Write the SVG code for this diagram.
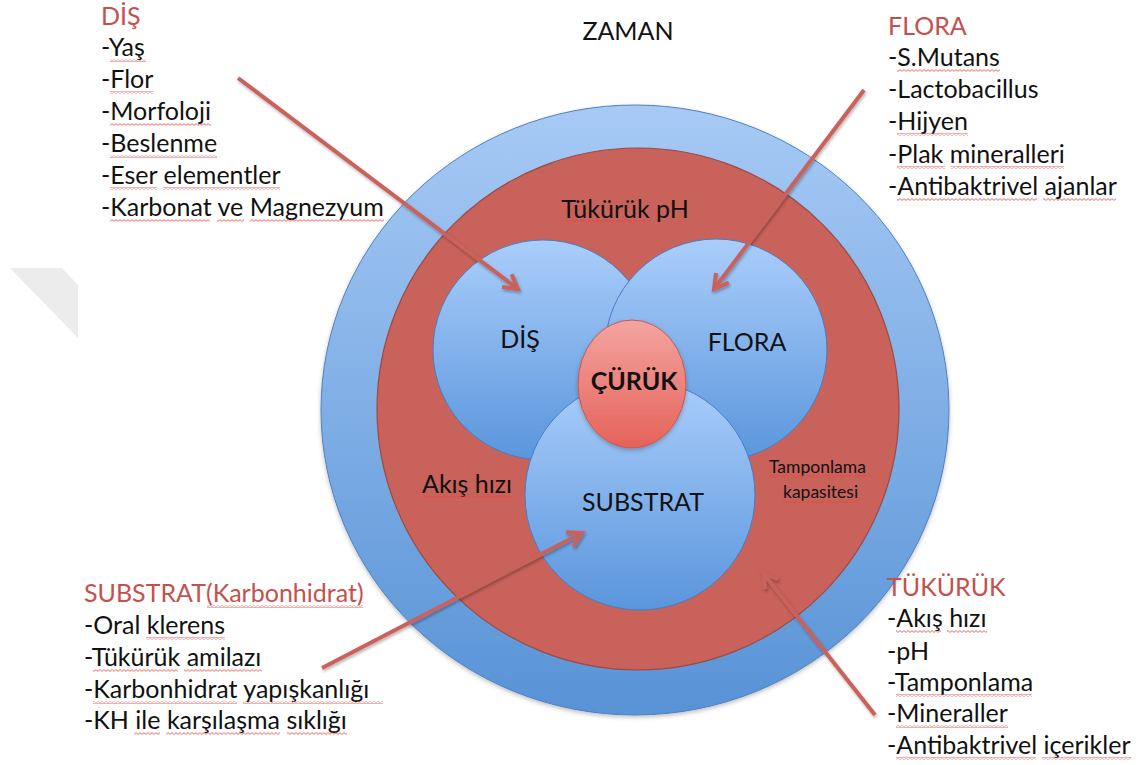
<svg xmlns="http://www.w3.org/2000/svg" width="1141" height="765" viewBox="0 0 1141 765">
<defs>
<style>
.t{font-family:Lato,"Open Sans","Liberation Sans",sans-serif;font-size:25px;fill:#111}
.c{font-family:Lato,"Open Sans","Liberation Sans",sans-serif;font-size:25px;fill:#111}
.s{font-size:17.5px}
.h{fill:#c4514d}
.w{fill:url(#wavy)}
.ring{stroke:#4f7fbf;stroke-width:1}
.inner{fill:url(#gInner);stroke:#4a7cc0;stroke-width:1}
.arrow{fill:none;stroke:#c9625b;stroke-width:4;marker-end:url(#head);filter:url(#sh)}
</style>
<pattern id="wavy" patternUnits="userSpaceOnUse" x="0" y="0" width="4" height="3">
<path d="M0,0.6 L2,2.4 L4,0.6" fill="none" stroke="#e8453e" stroke-width="0.8"/>
</pattern>
<linearGradient id="gOuter" x1="0" y1="0" x2="0" y2="1">
<stop offset="0" stop-color="#a7caf5"/>
<stop offset="1" stop-color="#5893d6"/>
</linearGradient>
<linearGradient id="gInner" x1="0" y1="0" x2="0" y2="1">
<stop offset="0" stop-color="#aacefb"/>
<stop offset="1" stop-color="#5a95dc"/>
</linearGradient>
<linearGradient id="gCur" x1="0" y1="0" x2="0" y2="1">
<stop offset="0" stop-color="#f3a59f"/>
<stop offset="1" stop-color="#e5625a"/>
</linearGradient>
<filter id="sh" x="-20%" y="-20%" width="140%" height="140%">
<feDropShadow dx="1" dy="2" stdDeviation="1.5" flood-color="#000" flood-opacity="0.3"/>
</filter>
<filter id="shc" x="-10%" y="-10%" width="120%" height="120%">
<feDropShadow dx="0" dy="2" stdDeviation="2" flood-color="#000" flood-opacity="0.25"/>
</filter>
<marker id="head" markerUnits="userSpaceOnUse" viewBox="0 0 24 24" refX="20" refY="12" markerWidth="24" markerHeight="24" orient="auto">
<path d="M6,4 L20,12 L6,20" fill="none" stroke="#c9625b" stroke-width="4" stroke-linejoin="miter"/>
</marker>
</defs>
<rect width="1141" height="765" fill="#fff"/>
<polygon points="10,268 62,268 78,285 78,338" fill="#ececec"/>

<g id="zaman">
<ellipse cx="635" cy="410" rx="314" ry="305" fill="url(#gOuter)" class="ring" filter="url(#shc)"/>
<text class="c" x="628" y="40" text-anchor="middle">ZAMAN</text>
</g>
<g id="tukuruk">
<circle cx="638" cy="409" r="261" fill="#c8625a" stroke="#9c4a44" stroke-width="1.2"/>
<text class="c" x="625" y="218" text-anchor="middle"><tspan>Tükürük</tspan> <tspan>pH</tspan></text>
<rect class="w" x="562" y="220" width="88" height="3"/>
<text class="c" x="422" y="493"><tspan>Akış</tspan> <tspan>hızı</tspan></text>
<rect class="w" x="422" y="495" width="45" height="3"/>
<rect class="w" x="473" y="495" width="39" height="3"/>
<text class="c s" x="769" y="473">Tamponlama</text>
<rect class="w" x="769" y="475" width="97" height="3"/>
<text class="c s" x="783" y="498">kapasitesi</text>
<rect class="w" x="783" y="500" width="75" height="3"/>
</g>
<g id="dis">
<circle cx="543" cy="350" r="110" class="inner"/>
<text class="c" x="520" y="348" text-anchor="middle">DİŞ</text>
</g>
<g id="flora">
<circle cx="716" cy="350" r="111" class="inner"/>
<text class="c" x="747" y="351" text-anchor="middle">FLORA</text>
</g>
<g id="substrat">
<circle cx="640" cy="495" r="115" class="inner"/>
<text class="c" x="643" y="511" text-anchor="middle">SUBSTRAT</text>
</g>
<g id="curuk">
<ellipse cx="632" cy="384" rx="54" ry="64" fill="url(#gCur)" stroke="#c9574f" stroke-width="1" filter="url(#shc)"/>
<text class="c" x="634" y="390" text-anchor="middle" font-weight="bold">ÇÜRÜK</text>
</g>

<g id="dis-info">
<text class="t h" x="101" y="25">DİŞ</text>
<text class="t" x="101" y="56">-<tspan>Yaş</tspan></text>
<text class="t" x="101" y="88">-<tspan>Flor</tspan></text>
<text class="t" x="101" y="120">-<tspan>Morfoloji</tspan></text>
<text class="t" x="101" y="152">-<tspan>Beslenme</tspan></text>
<text class="t" x="101" y="184">-<tspan>Eser</tspan> <tspan>elementler</tspan></text>
<text class="t" x="101" y="216">-<tspan>Karbonat</tspan> <tspan>ve</tspan> <tspan>Magnezyum</tspan></text>
<rect class="w" x="110" y="59" width="36" height="3"/>
<rect class="w" x="110" y="91" width="43" height="3"/>
<rect class="w" x="110" y="123" width="101" height="3"/>
<rect class="w" x="110" y="155" width="107" height="3"/>
<rect class="w" x="110" y="187" width="47" height="3"/>
<rect class="w" x="163" y="187" width="117" height="3"/>
<rect class="w" x="110" y="219" width="100" height="3"/>
<rect class="w" x="217" y="219" width="27" height="3"/>
<rect class="w" x="250" y="219" width="134" height="3"/>
</g>
<g id="flora-info">
<text class="t h" x="888" y="35">FLORA</text>
<text class="t" x="888" y="66">-<tspan>S.Mutans</tspan></text>
<text class="t" x="888" y="98">-<tspan>Lactobacillus</tspan></text>
<text class="t" x="888" y="130">-<tspan>Hijyen</tspan></text>
<text class="t" x="888" y="163">-<tspan>Plak</tspan> <tspan>mineralleri</tspan></text>
<text class="t" x="888" y="195">-<tspan>Antibaktrivel</tspan> <tspan>ajanlar</tspan></text>
<rect class="w" x="897" y="69" width="103" height="3"/>
<rect class="w" x="897" y="133" width="71" height="3"/>
<rect class="w" x="897" y="166" width="48" height="3"/>
<rect class="w" x="951" y="166" width="113" height="3"/>
<rect class="w" x="897" y="198" width="140" height="3"/>
<rect class="w" x="1043" y="198" width="73" height="3"/>
</g>
<g id="substrat-info">
<text class="t h" x="84" y="602">SUBSTRAT(<tspan>Karbonhidrat)</tspan></text>
<text class="t" x="84" y="634">-<tspan>Oral</tspan> <tspan>klerens</tspan></text>
<text class="t" x="84" y="666">-<tspan>Tükürük</tspan> <tspan>amilazı</tspan></text>
<text class="t" x="84" y="698">-<tspan>Karbonhidrat</tspan> <tspan>yapışkanlığı</tspan></text>
<text class="t" x="84" y="729">-<tspan>KH</tspan> <tspan>ile</tspan> <tspan>karşılaşma</tspan> <tspan>sıklığı</tspan></text>
<rect class="w" x="207" y="605" width="156" height="3"/>
<rect class="w" x="146" y="637" width="79" height="3"/>
<rect class="w" x="93" y="669" width="85" height="3"/>
<rect class="w" x="184" y="669" width="78" height="3"/>
<rect class="w" x="93" y="701" width="144" height="3"/>
<rect class="w" x="243" y="701" width="140" height="3"/>
<rect class="w" x="134" y="732" width="26" height="3"/>
<rect class="w" x="166" y="732" width="114" height="3"/>
<rect class="w" x="287" y="732" width="60" height="3"/>
</g>
<g id="tukuruk-info">
<text class="t h" x="887" y="596">TÜKÜRÜK</text>
<text class="t" x="887" y="627">-<tspan>Akış</tspan> <tspan>hızı</tspan></text>
<text class="t" x="887" y="660">-<tspan>pH</tspan></text>
<text class="t" x="887" y="691">-<tspan>Tamponlama</tspan></text>
<text class="t" x="887" y="722">-<tspan>Mineraller</tspan></text>
<text class="t" x="887" y="754">-<tspan>Antibaktrivel</tspan> <tspan>içerikler</tspan></text>
<rect class="w" x="896" y="630" width="45" height="3"/>
<rect class="w" x="947" y="630" width="40" height="3"/>
<rect class="w" x="896" y="694" width="136" height="3"/>
<rect class="w" x="896" y="725" width="112" height="3"/>
<rect class="w" x="896" y="757" width="140" height="3"/>
<rect class="w" x="1042" y="757" width="89" height="3"/>
</g>

<g id="connectors">
<path class="arrow" d="M238,78 L518,289"/>
<path class="arrow" d="M864,90 L714,289"/>
<path class="arrow" d="M322,668 L582,533"/>
<path class="arrow" d="M875,715 L763,573"/>
</g>
</svg>
